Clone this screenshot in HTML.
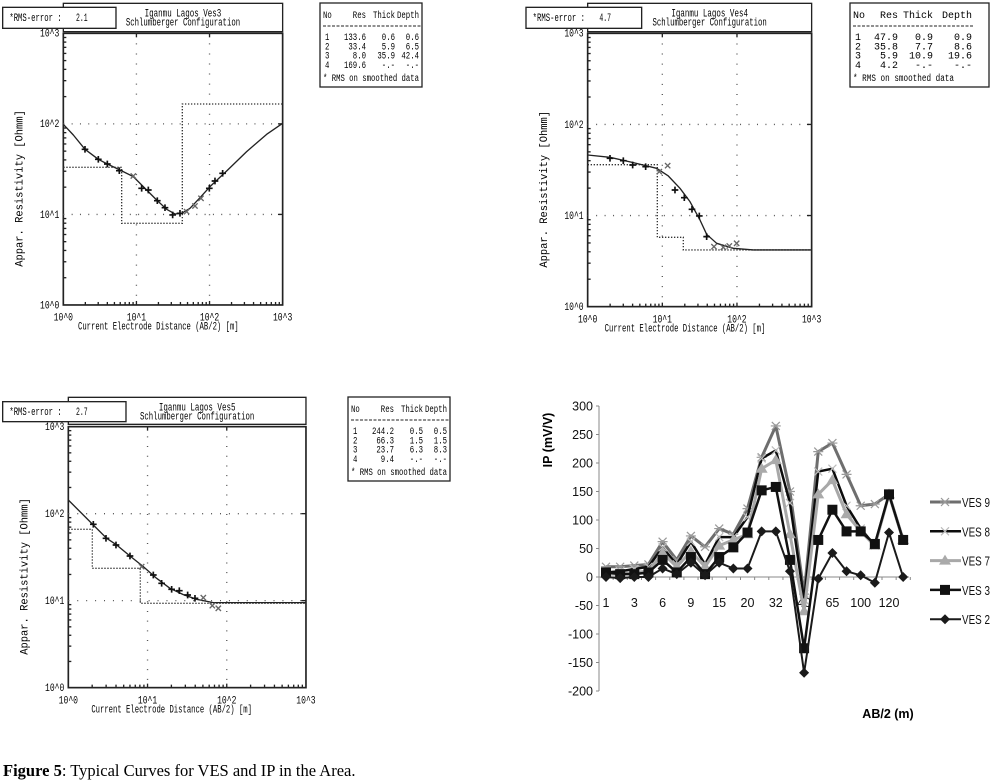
<!DOCTYPE html>
<html><head><meta charset="utf-8"><style>
html,body{margin:0;padding:0;background:#fff;}
svg{display:block;}
</style></head><body>
<svg id="s" width="996" height="784" viewBox="0 0 996 784" xmlns="http://www.w3.org/2000/svg" font-family="Liberation Mono, monospace"></svg>
<script>
const S=document.getElementById('s');
let h='';
function pl(pts){return pts.map(p=>p.join(',')).join(' ');}
function tx(x,y,s,len,anchor,fs){return `<text x="${x}" y="${y}" font-size="${fs||32}" text-anchor="${anchor||'start'}" textLength="${len}" lengthAdjust="spacingAndGlyphs">${s}</text>`;}
function panel(c){
 let g=`<g transform="translate(${c.ox},${c.oy}) scale(0.3333)">`;
 const [L,T,R,B]=c.plot;
 g+=`<rect x="${c.title[0]}" y="${c.title[1]}" width="${c.title[2]-c.title[0]}" height="${c.title[3]-c.title[1]}" fill="#fff" stroke="#222" stroke-width="4"/>`;
 g+=`<rect x="${c.rms[0]}" y="${c.rms[1]}" width="${c.rms[2]-c.rms[0]}" height="${c.rms[3]-c.rms[1]}" fill="#fff" stroke="#222" stroke-width="4"/>`;
 const rm=(c.rms[1]+c.rms[3])/2+10;
 g+=tx(c.rms[0]+20,rm,'*RMS-error :',157);
 g+=tx(c.rms[0]+220,rm,c.rmsv,35);
 const tc=(c.title[0]+c.title[2])/2+30;
 g+=tx(tc,c.title[1]+40,'Iganmu Lagos '+c.name,230,'middle');
 g+=tx(tc,c.title[1]+66,'Schlumberger Configuration',343,'middle');
 g+=`<rect x="${L}" y="${T}" width="${R-L}" height="${B-T}" fill="none" stroke="#222" stroke-width="5"/>`;
 const dx=(R-L)/3, dy=(B-T)/3;
 for(let i=1;i<3;i++){
  g+=`<line x1="${L+dx*i}" y1="${T}" x2="${L+dx*i}" y2="${B}" stroke="#555" stroke-width="4" stroke-dasharray="3 ${dy/10}"/>`;
  g+=`<line x1="${L}" y1="${T+dy*i}" x2="${R}" y2="${T+dy*i}" stroke="#555" stroke-width="4" stroke-dasharray="3 ${dx/10}"/>`;
  g+=`<line x1="${L+dx*i}" y1="${T}" x2="${L+dx*i}" y2="${T+12}" stroke="#222" stroke-width="4"/><line x1="${L+dx*i}" y1="${B}" x2="${L+dx*i}" y2="${B-12}" stroke="#222" stroke-width="4"/>`;
  g+=`<line x1="${R}" y1="${T+dy*i}" x2="${R-14}" y2="${T+dy*i}" stroke="#222" stroke-width="4"/>`;
 }
 for(let d=0;d<3;d++)for(let k=2;k<10;k++){
  const f=Math.log10(k);
  const x=L+dx*(d+f), y=B-dy*(d+f);
  g+=`<line x1="${x}" y1="${B}" x2="${x}" y2="${B-9}" stroke="#222" stroke-width="4"/>`;
  g+=`<line x1="${L}" y1="${y}" x2="${L+9}" y2="${y}" stroke="#222" stroke-width="4"/>`;
 }
 for(let i=0;i<4;i++){
  g+=tx(L-12,B-dy*i+10,'10^'+i,58,'end');
  g+=tx(L+dx*i,B+47,'10^'+i,58,'middle');
 }
 g+=tx(L+c.xt,B+74,'Current Electrode Distance (AB/2) [m]',482,'middle');
 const yc=(T+B)/2+58;
 g+=`<g transform="translate(${L-122},${yc}) rotate(-90)">${tx(0,0,'Appar. Resistivity [Ohmm]',470,'middle')}</g>`;
 g+=`<polyline points="${pl(c.model)}" fill="none" stroke="#333" stroke-width="4" stroke-dasharray="4 5"/>`;
 g+=`<polyline points="${pl(c.curve)}" fill="none" stroke="#222" stroke-width="4" stroke-linejoin="round"/>`;
 for(const p of c.plus){g+=`<path d="M${p[0]-10},${p[1]}h20M${p[0]},${p[1]-10}v20" stroke="#111" stroke-width="5"/>`;}
 for(const p of c.xs){g+=`<path d="M${p[0]-8},${p[1]-8}l16,16M${p[0]+8},${p[1]-8}l-16,16" stroke="#666" stroke-width="4"/>`;}
 g+='</g>';
 const t=c.tab; const [X0,Y0]=t.pos; const W=t.w,H=84;
 g+=`<rect x="${X0}" y="${Y0}" width="${W}" height="${H}" fill="#fff" stroke="#222" stroke-width="1.3"/>`;
 const cols=t.cols, n=W>120, cw=n?6:4.4;
 const T2=(x,y,s,a)=>`<text x="${x}" y="${y}" text-anchor="${a||'start'}" textLength="${s.length*cw}" lengthAdjust="spacingAndGlyphs">${s}</text>`;
 g+=`<g font-size="10">${T2(X0+3,Y0+15,'No')}${T2(X0+cols[0],Y0+15,'Res','end')}${T2(X0+cols[1],Y0+15,'Thick','end')}${T2(X0+cols[2],Y0+15,'Depth','end')}`;
 g+=`<line x1="${X0+3}" y1="${Y0+23}" x2="${X0+cols[2]+2}" y2="${Y0+23}" stroke="#222" stroke-width="1" stroke-dasharray="3 1.5"/>`;
 t.rows.forEach((r,i)=>{const y=Y0+37+i*9.3;g+=T2(X0+5,y,String(i+1));r.forEach((v,j)=>{g+=T2(X0+cols[j],y,v,'end');});});
 g+=`<text x="${X0+3}" y="${Y0+H-6}" textLength="${n?101:96}" lengthAdjust="spacingAndGlyphs">* RMS on smoothed data</text></g>`;
 return g;
}
h+=panel({ox:0,oy:0,name:'Ves3',rmsv:'2.1',xt:285,plot:[190,100,848,915],title:[190,10,848,95],rms:[8,22,348,85],
 model:[[190,502],[365,502],[365,670],[547,670],[547,312],[848,312]],
 curve:[[190,373],[220,405],[255,448],[295,478],[322,492],[360,510],[400,530],[440,570],[470,600],[500,628],[525,642],[545,640],[570,625],[600,593],[630,560],[680,513],[740,455],[800,403],[848,370]],
 plus:[[255,448],[295,478],[322,492],[358,512],[425,565],[445,570],[472,602],[495,623],[518,645],[540,640],[628,565],[645,543],[668,520]],
 xs:[[400,528],[560,635],[585,618],[603,595]],
 tab:{pos:[320,3],w:102,cols:[46,75,99],rows:[['133.6','0.6','0.6'],['33.4','5.9','6.5'],['8.0','35.9','42.4'],['169.6','-.-','-.-']]}});
h+=panel({ox:500,oy:0,name:'Ves4',rmsv:'4.7',xt:292,plot:[263,100,935,920],title:[263,10,935,95],rms:[78,22,425,85],
 model:[[263,494],[472,494],[472,712],[550,712],[550,750],[935,750]],
 curve:[[263,465],[330,472],[400,488],[470,505],[505,528],[540,565],[570,605],[600,660],[620,703],[650,730],[700,745],[760,750],[935,750]],
 plus:[[330,475],[370,482],[398,495],[437,500],[525,570],[553,593],[576,628],[598,648],[620,710]],
 xs:[[503,497],[478,515],[642,740],[670,742],[688,738],[710,730]],
 tab:{pos:[850,3],w:139,cols:[48,83,122],rows:[['47.9','0.9','0.9'],['35.8','7.7','8.6'],['5.9','10.9','19.6'],['4.2','-.-','-.-']]}});
h+=panel({ox:0,oy:390,name:'Ves5',rmsv:'2.7',xt:310,plot:[205,110,918,893],title:[205,22,918,103],rms:[8,35,378,95],
 model:[[205,418],[277,418],[277,535],[421,535],[421,640],[918,640]],
 curve:[[205,330],[280,405],[320,445],[350,465],[390,498],[430,530],[470,565],[510,595],[550,614],[590,628],[640,638],[918,638]],
 plus:[[280,403],[318,445],[348,465],[390,498],[460,555],[485,580],[515,598],[538,602],[563,615],[585,625]],
 xs:[[425,530],[610,623],[637,647],[655,655]],
 tab:{pos:[348,397],w:102,cols:[46,75,99],rows:[['244.2','0.5','0.5'],['66.3','1.5','1.5'],['23.7','6.3','8.3'],['9.4','-.-','-.-']]}});
(function(){
 let g='<g font-family="Liberation Sans, sans-serif">';
 const Y=v=>577-v*0.57;
 const X=i=>606+i*14.15;
 g+=`<line x1="599" y1="406" x2="599" y2="691" stroke="#888" stroke-width="1"/>`;
 g+=`<line x1="599" y1="577" x2="909" y2="577" stroke="#888" stroke-width="1"/>`;
 for(let v=300;v>=-200;v-=50){g+=`<line x1="596" y1="${Y(v)}" x2="599" y2="${Y(v)}" stroke="#888"/><text x="593" y="${Y(v)+4.5}" font-size="12.5" text-anchor="end" fill="#111">${v}</text>`;}
 const labs=['1','3','6','9','15','20','32','40','65','100','120'];
 labs.forEach((l,i)=>{g+=`<text x="${X(i*2)}" y="${Y(0)+30}" font-size="12.5" text-anchor="middle" fill="#111">${l}</text>`;});
 for(let i=0;i<=22;i++){g+=`<line x1="${X(i)-7}" y1="577" x2="${X(i)-7}" y2="580" stroke="#888"/>`;}
 g+=`<text transform="translate(552,440) rotate(-90)" font-size="12.5" font-weight="bold" text-anchor="middle">IP (mV/V)</text>`;
 g+=`<text x="888" y="718" font-size="12.5" font-weight="bold" text-anchor="middle">AB/2 (m)</text>`;
 const SS=[
  {c:'#6e6e6e',w:3,m:'star',d:[18,18,20,22,62,30,72,53,85,75,120,210,265,150,-30,220,235,180,125,128,145,65],n:'VES 9'},
  {c:'#0c0c0c',w:2.5,m:'x',d:[8,10,14,18,52,22,62,22,70,70,105,208,222,130,-40,185,190,125,85,55,145,65],n:'VES 8'},
  {c:'#a8a8a8',w:3,m:'tri',d:[5,5,8,10,42,18,45,18,55,65,75,190,205,75,-60,145,170,110,80,55,145,65],n:'VES 7'},
  {c:'#111',w:2.5,m:'sq',d:[8,5,5,8,30,8,35,5,35,52,78,152,158,30,-125,65,118,80,80,58,145,65],n:'VES 3'},
  {c:'#1a1a1a',w:2,m:'dia',d:[0,-2,0,0,15,5,25,3,25,15,15,80,80,10,-168,-3,42,10,3,-10,78,0],n:'VES 2'}];
 function mk(m,x,y,c){
  if(m==='sq')return `<rect x="${x-5}" y="${y-5}" width="10" height="10" fill="${c}"/>`;
  if(m==='dia')return `<path d="M${x},${y-5}L${x+5},${y}L${x},${y+5}L${x-5},${y}Z" fill="${c}"/>`;
  if(m==='tri')return `<path d="M${x},${y-6}L${x+6},${y+4}L${x-6},${y+4}Z" fill="${c}"/>`;
  if(m==='x')return `<path d="M${x-4},${y-4}l8,8M${x+4},${y-4}l-8,8" stroke="#bbb" stroke-width="1.2"/>`;
  return `<path d="M${x-5},${y}h10M${x-4},${y-4}l8,8M${x+4},${y-4}l-8,8" stroke="#999" stroke-width="1.2"/>`;
 }
 SS.forEach((s,k)=>{
  g+=`<polyline points="${s.d.map((v,i)=>X(i)+','+Y(v)).join(' ')}" fill="none" stroke="${s.c}" stroke-width="${s.w}" stroke-linejoin="round"/>`;
  s.d.forEach((v,i)=>{g+=mk(s.m,X(i),Y(v),s.m==='tri'?'#aaa':s.c);});
  const ly=502+k*29.3;
  g+=`<line x1="930" y1="${ly}" x2="961" y2="${ly}" stroke="${s.c}" stroke-width="${s.w}"/>`+mk(s.m,945,ly,s.m==='tri'?'#aaa':s.c);
  g+=`<text x="962" y="${ly+5}" font-size="12.5" fill="#111" textLength="28" lengthAdjust="spacingAndGlyphs">${s.n}</text>`;
 });
 g+='</g>';
 h+=g;
})();
h+=`<text x="3" y="776" font-family="Liberation Serif, serif" font-size="16.5" fill="#000"><tspan font-weight="bold">Figure 5</tspan>: Typical Curves for VES and IP in the Area.</text>`;
S.innerHTML=h;
</script>
</body></html>
